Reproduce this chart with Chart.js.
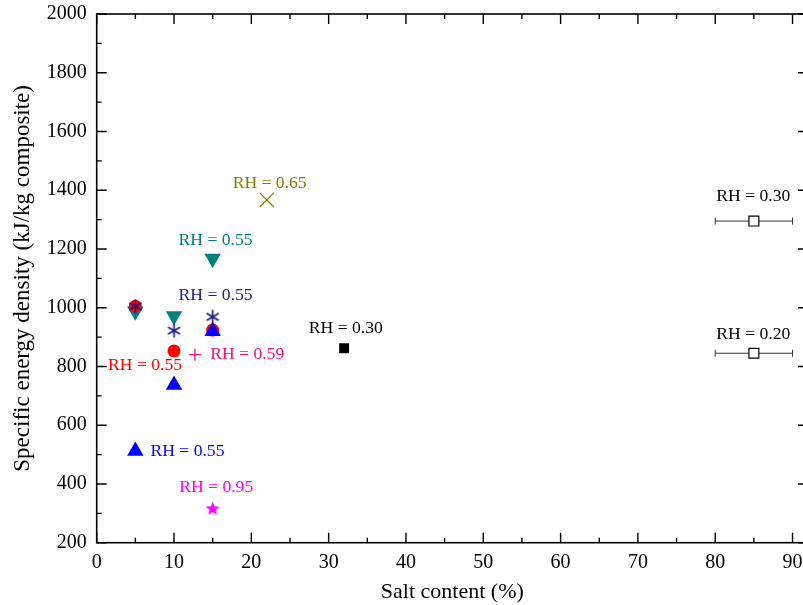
<!DOCTYPE html>
<html>
<head>
<meta charset="utf-8">
<script src="https://cdn.jsdelivr.net/npm/chart.js@4.4.1/dist/chart.umd.min.js"></script>
<style>
html,body{margin:0;padding:0;background:#fff;overflow:hidden;}
#wrap{width:830px;height:605px;position:relative;}
</style>
</head>
<body>
<div id="wrap"><canvas id="c" width="830" height="605"></canvas></div>
<script>
// ---- data ----
const tealX = [5, 10, 15];
const tealY = [988, 972, 1168];
const redX = [5, 10, 15];
const redY = [1005, 853, 924];
const blueX = [5, 10, 15];
const blueY = [512, 737, 920];
const navyX = [5, 10, 15];
const navyY = [1005, 922, 969];
const oliveX = [22];
const oliveY = [1367];
const pinkX = [12.7];
const pinkY = [840];
const magentaX = [15];
const magentaY = [315];
const blackX = [32];
const blackY = [862];
const openX = [85, 85];
const openY = [1295, 845];
const openXErrLow = [80, 80];
const openXErrHigh = [90, 90];
const xTickValues = [0, 10, 20, 30, 40, 50, 60, 70, 80, 90];
const yTickValues = [200, 400, 600, 800, 1000, 1200, 1400, 1600, 1800, 2000];
const labelTexts = ['RH = 0.55', 'RH = 0.55', 'RH = 0.55', 'RH = 0.55', 'RH = 0.59', 'RH = 0.65', 'RH = 0.95', 'RH = 0.30', 'RH = 0.30', 'RH = 0.20'];
const labelX = [15.37, 15.37, 6.25, 11.74, 19.47, 22.37, 15.46, 32.22, 84.93, 84.93];
const labelY = [1230, 1041, 805, 510, 842, 1424, 387, 930, 1378, 910];
const labelColors = ['#008080', '#202090', '#ff0000', '#0000ff', '#ee1280', '#808000', '#ff00ff', '#000000', '#000000', '#000000'];

const FONT = "'Liberation Serif', 'Times New Roman', serif";

function pts(xs, ys){ return xs.map((x,i)=>({x:x, y:ys[i]})); }

// filled 5-point star image
function makeStar(r, color){
  const s = Math.ceil(r*2+2);
  const cv = document.createElement('canvas'); cv.width = s; cv.height = s;
  const g = cv.getContext('2d');
  g.fillStyle = color; g.beginPath();
  for(let i=0;i<10;i++){
    const rad = (i%2===0)? r : r*0.42;
    const a = -Math.PI/2 + i*Math.PI/5;
    const px = s/2 + rad*Math.cos(a), py = s/2 + rad*Math.sin(a);
    if(i===0) g.moveTo(px,py); else g.lineTo(px,py);
  }
  g.closePath(); g.fill();
  return cv;
}
// six-armed asterisk image
function makeAsterisk(r, color){
  const s = Math.ceil(r*2+3);
  const cv = document.createElement('canvas'); cv.width = s; cv.height = s;
  const g = cv.getContext('2d');
  g.strokeStyle = color; g.lineWidth = 1.7; g.beginPath();
  [90, 30, 150].forEach(d=>{
    const a = d*Math.PI/180;
    g.moveTo(s/2 - r*Math.cos(a), s/2 - r*Math.sin(a));
    g.lineTo(s/2 + r*Math.cos(a), s/2 + r*Math.sin(a));
  });
  g.stroke();
  return cv;
}

const frameAndLabels = {
  id: 'frameAndLabels',
  beforeDatasetsDraw(chart){
    const ctx = chart.ctx, xs = chart.scales.x, ys = chart.scales.y;
    ctx.save();
    ctx.strokeStyle = '#333'; ctx.lineWidth = 1;
    openY.forEach((y,i)=>{
      const py = ys.getPixelForValue(y);
      const x1 = xs.getPixelForValue(openXErrLow[i]), x2 = xs.getPixelForValue(openXErrHigh[i]);
      ctx.beginPath();
      ctx.moveTo(x1, py); ctx.lineTo(x2, py);
      ctx.moveTo(x1, py-3.5); ctx.lineTo(x1, py+3.5);
      ctx.moveTo(x2, py-3.5); ctx.lineTo(x2, py+3.5);
      ctx.stroke();
    });
    ctx.restore();
  },
  afterDraw(chart){
    const ctx = chart.ctx, a = chart.chartArea, xs = chart.scales.x, ys = chart.scales.y;
    ctx.save();
    ctx.strokeStyle = '#000'; ctx.lineWidth = 1.6;
    ctx.strokeRect(a.left, a.top, a.right - a.left, a.bottom - a.top);
    ctx.lineWidth = 1.4;
    ctx.beginPath();
    const major = 10, minor = 5;
    for(let v=0; v<=90; v+=5){
      const px = xs.getPixelForValue(v);
      const L = (v%10===0) ? major : minor;
      ctx.moveTo(px, a.bottom); ctx.lineTo(px, a.bottom - L);
      ctx.moveTo(px, a.top); ctx.lineTo(px, a.top + L);
    }
    for(let v=200; v<=2000; v+=100){
      const py = ys.getPixelForValue(v);
      const L = (v%200===0) ? major : minor;
      ctx.moveTo(a.left, py); ctx.lineTo(a.left + L, py);
      ctx.moveTo(a.right, py); ctx.lineTo(a.right - L, py);
    }
    ctx.stroke();
    // annotations
    ctx.font = "17.6px " + FONT;
    ctx.textAlign = 'center'; ctx.textBaseline = 'middle';
    labelTexts.forEach((t,i)=>{
      ctx.fillStyle = labelColors[i];
      ctx.fillText(t, xs.getPixelForValue(labelX[i]), ys.getPixelForValue(labelY[i]));
    });
    // axis titles
    ctx.fillStyle = '#000';
    ctx.font = "22px " + FONT;
    ctx.textBaseline = 'alphabetic';
    ctx.fillText('Salt content (%)', (a.left + a.right)/2, 598);
    ctx.save();
    ctx.font = "23px " + FONT;
    ctx.translate(29, (a.top + a.bottom)/2);
    ctx.rotate(-Math.PI/2);
    ctx.fillText('Specific energy density (kJ/kg composite)', 0, 0);
    ctx.restore();
    ctx.restore();
  }
};

const tickFont = {family: FONT, size: 20};

new Chart(document.getElementById('c'), {
  type: 'scatter',
  data: {
    datasets: [
      {label:'teal', data: pts(tealX, tealY), pointStyle:'triangle', rotation:180, pointRadius:9.5, backgroundColor:'#008080', borderColor:'#008080', borderWidth:0, order:9},
      {label:'red', data: pts(redX, redY), pointStyle:'circle', pointRadius:6.5, backgroundColor:'#ff0000', borderColor:'#ff0000', borderWidth:0, order:8},
      {label:'blue', data: pts(blueX, blueY), pointStyle:'triangle', pointRadius:9.5, backgroundColor:'#0000ff', borderColor:'#0000ff', borderWidth:0, order:7},
      {label:'navy', data: pts(navyX, navyY), pointStyle: makeAsterisk(7, '#1c1c80'), pointRadius:7, order:6},
      {label:'olive', data: pts(oliveX, oliveY), pointStyle:'crossRot', pointRadius:10, borderColor:'#808000', borderWidth:1.2, order:5},
      {label:'pink', data: pts(pinkX, pinkY), pointStyle:'cross', pointRadius:6, borderColor:'#ee1280', borderWidth:1.3, order:4},
      {label:'magenta', data: pts(magentaX, magentaY), pointStyle: makeStar(7.5, '#ff00ff'), pointRadius:8, order:3},
      {label:'black', data: pts(blackX, blackY), pointStyle:'rect', pointRadius:7, backgroundColor:'#000', borderColor:'#000', borderWidth:0, order:2},
      {label:'open', data: pts(openX, openY), pointStyle:'rect', pointRadius:7, backgroundColor:'#fff', borderColor:'#000', borderWidth:1.2, order:1}
    ]
  },
  options: {
    responsive: false,
    animation: false,
    events: [],
    layout: {padding: {top: 14, right: 22, left: 0, bottom: 0}},
    plugins: {legend: {display:false}, tooltip: {enabled:false}},
    scales: {
      x: {
        type: 'linear', position: 'bottom', min: 0, max: 92,
        afterBuildTicks: (s)=>{ s.ticks = xTickValues.map(v=>({value:v})); },
        afterFit: (s)=>{ s.height = 62.3; s.paddingLeft = 0; s.paddingRight = 0; },
        grid: {display:false, drawTicks:false},
        border: {display:false},
        ticks: {color:'#000', font: tickFont, padding: 8, maxRotation:0, autoSkip:false, callback: (v)=>String(v)}
      },
      y: {
        type: 'linear', position: 'left', min: 200, max: 2000,
        afterBuildTicks: (s)=>{ s.ticks = yTickValues.map(v=>({value:v})); },
        afterFit: (s)=>{ s.width = 96.7; s.paddingTop = 0; s.paddingBottom = 0; },
        grid: {display:false, drawTicks:false},
        border: {display:false},
        ticks: {color:'#000', font: tickFont, padding: 10, autoSkip:false, callback: (v)=>String(v)}
      }
    }
  },
  plugins: [frameAndLabels]
});
</script>
</body>
</html>
